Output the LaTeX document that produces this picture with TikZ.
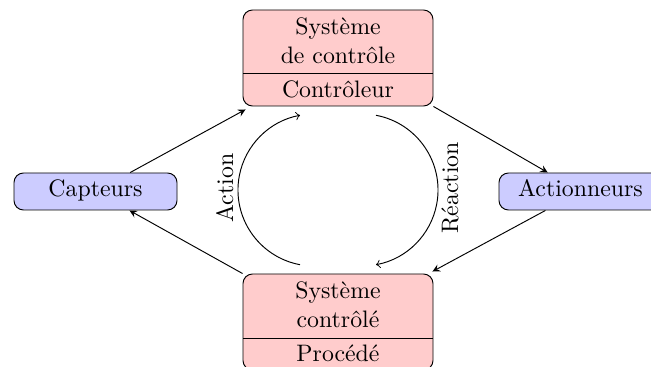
\documentclass[tikz,border=0pt]{standalone}
\usetikzlibrary{fit}
\begin{document}
\begin{tikzpicture}[x=0.42pt,y=-0.42pt,
  pinkbox/.style={draw,fill=red!20,rounded corners=4pt,inner sep=0pt},
  bluebox/.style={draw,fill=blue!20,rounded corners=4pt,inner sep=0pt},
  txt/.style={anchor=base,inner sep=0pt},
  link/.style={-stealth},
  loop/.style={->}]
\clip (0,0) rectangle (651,367);
% boxes
\node[pinkbox,fit={(243,10) (433,106)}] (ctrl) {};
\node[pinkbox,fit={(243,274) (433,370)}] (proc) {};
\node[bluebox,fit={(14,173) (177,210)}] (capt) {};
\node[bluebox,fit={(499,173) (662,210)}] (act) {};
% dividers
\coordinate (d1l) at (243,73); \coordinate (d1r) at (433,73);
\coordinate (d2l) at (243,338); \coordinate (d2r) at (433,338);
\draw (d1l) -- (d1r);
\draw (d2l) -- (d2r);
% texts
\node[txt] (t1) at (338,35) {Système};
\node[txt] (t2) at (338,64) {de contrôle};
\node[txt] (t3) at (338,98) {Contrôleur};
\node[txt] (t4) at (338,299) {Système};
\node[txt] (t5) at (338,328) {contrôlé};
\node[txt] (t6) at (338,362) {Procédé};
\node[txt] (tc) at (95.5,197) {Capteurs};
\node[txt] (ta) at (580.5,197) {Actionneurs};
% straight connectors
\draw[link] (capt) -- ([shift={(3,3)}]ctrl.south west);
\draw[link] (ctrl.south east) -- (act);
\draw[link] (act) -- ([shift={(-1,-2)}]proc.north east);
\draw[link] (proc.north west) -- (capt);
% arcs
\coordinate (la) at (300,264.7);
\coordinate (ra) at (376,115.3);
\draw[loop] (la) arc[start angle=100.6,end angle=259.4,radius=76];
\draw[loop] (ra) arc[start angle=-79.4,end angle=79.4,radius=76];
\node[rotate=90,anchor=base,inner sep=0pt] (lblA) at (233,188) {Action};
\node[rotate=90,anchor=base,inner sep=0pt] (lblR) at (458,188) {Réaction};
\end{tikzpicture}
\end{document}
